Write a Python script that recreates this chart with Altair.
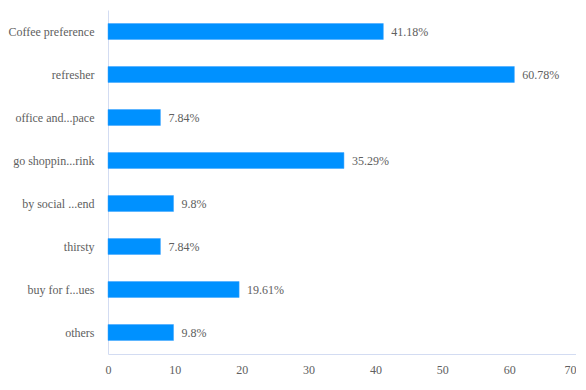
import altair as alt
import pandas as pd

categories = ["Coffee preference", "refresher", "office and...pace", "go shoppin...rink",
              "by social ...end", "thirsty", "buy for f...ues", "others"]
values = [41.18, 60.78, 7.84, 35.29, 9.8, 7.84, 19.61, 9.8]
labels = ["41.18%", "60.78%", "7.84%", "35.29%", "9.8%", "7.84%", "19.61%", "9.8%"]
x_ticks = [0, 10, 20, 30, 40, 50, 60, 70]

df = pd.DataFrame({"cat": categories, "val": values, "lab": labels})

font = "Times New Roman, Liberation Serif, serif"
axis_color = "#d3dcf2"
text_color = "#606060"

y = alt.Y("cat:N", sort=categories, title=None,
          scale=alt.Scale(paddingInner=0.63, paddingOuter=0.315),
          axis=alt.Axis(domainColor=axis_color, ticks=False, labelPadding=14,
                        labelFont=font, labelFontSize=12, labelColor=text_color, grid=False))
x = alt.X("val:Q", title=None,
          scale=alt.Scale(domain=[0, 70], nice=False),
          axis=alt.Axis(values=x_ticks, domainColor=axis_color, ticks=False,
                        labelPadding=10, labelFont=font, labelFontSize=12, labelColor=text_color,
                        labelAlign=alt.ExprRef("datum.value == 70 ? 'right' : 'center'"),
                        grid=False))

bars = alt.Chart(df).mark_bar(color="#0091ff", stroke="#3aa3ff", strokeWidth=0.5).encode(x=x, y=y)
text = alt.Chart(df).mark_text(align="left", baseline="middle", dx=8, font=font, fontSize=12,
                               color=text_color).encode(x="val:Q", y=alt.Y("cat:N", sort=categories), text="lab:N")

chart = (bars + text).properties(
    width=468, height=344,
    autosize=alt.AutoSizeParams(type="none"),
    padding={"left": 100, "top": 2, "right": 0, "bottom": 24},
).configure(background="white", font=font).configure_view(strokeWidth=0)

chart.save("out.html", embed_options={"renderer": "svg", "actions": False})
